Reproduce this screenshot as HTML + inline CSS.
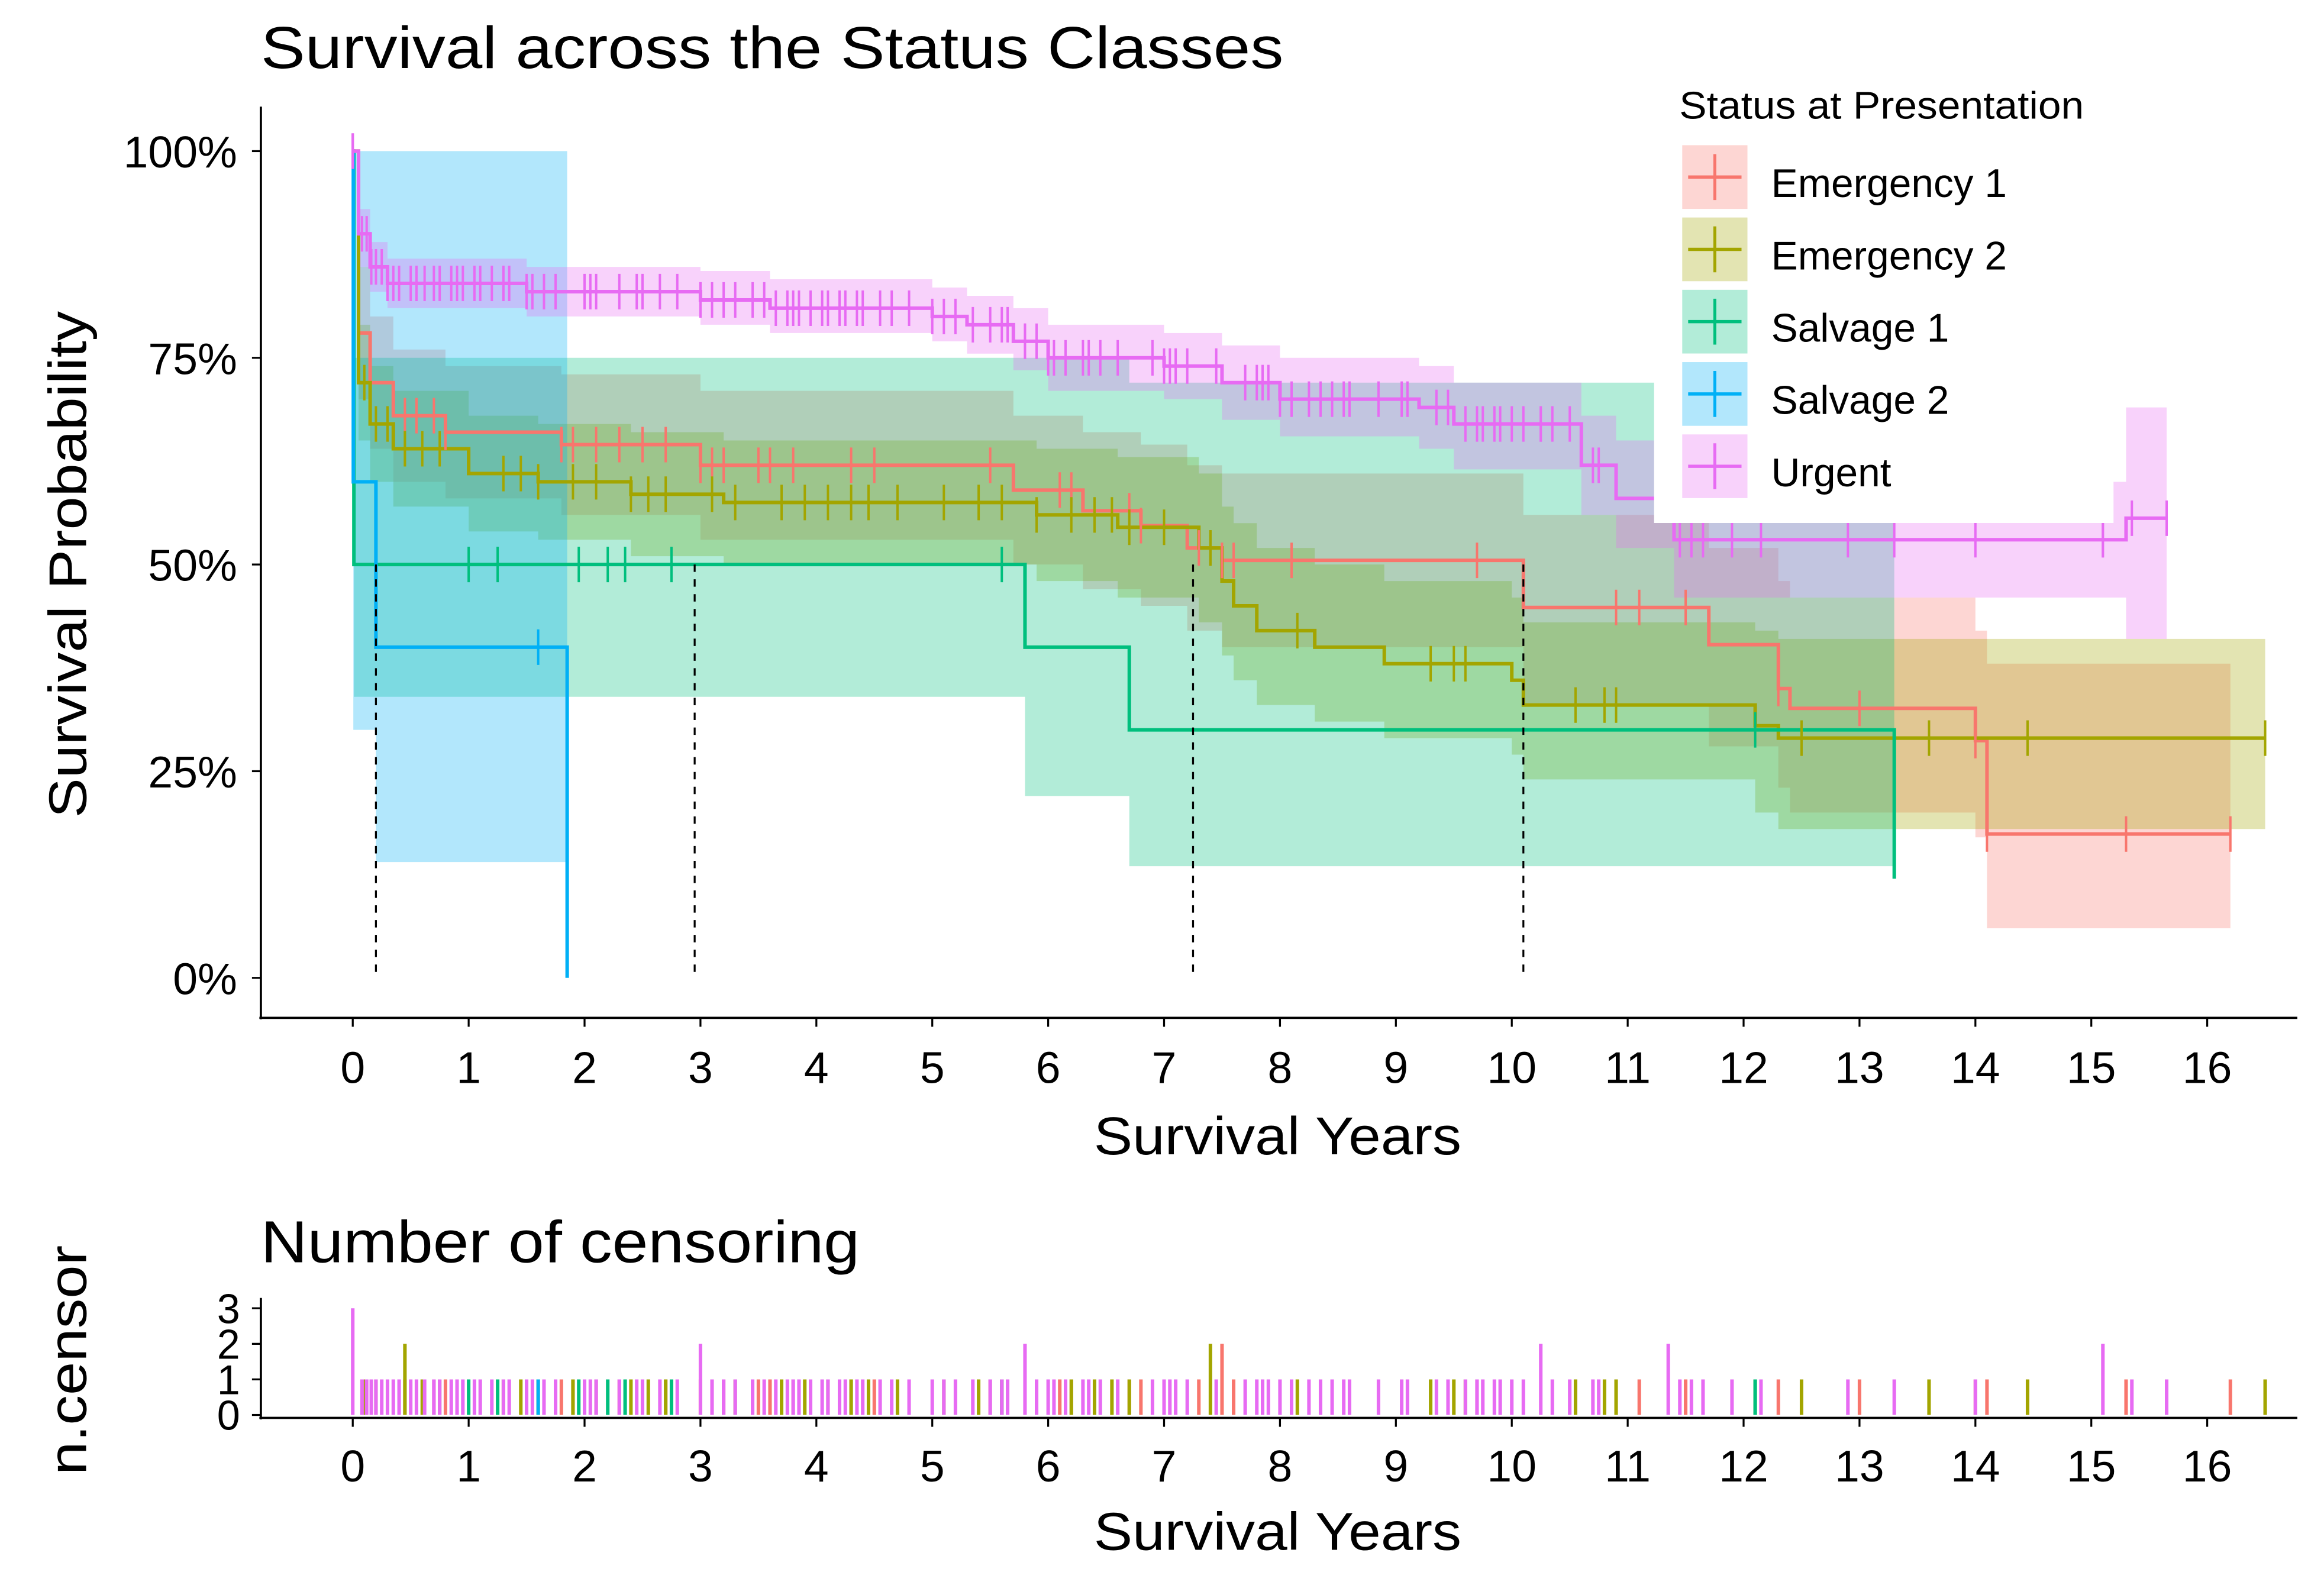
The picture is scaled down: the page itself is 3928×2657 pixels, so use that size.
<!DOCTYPE html>
<html><head><meta charset="utf-8"><style>
html,body{margin:0;padding:0;background:#fff;}
svg{display:block;}
text{font-family:"Liberation Sans",Arial,sans-serif;fill:#000;}
</style></head><body>
<svg id="chart" width="3928" height="2657" viewBox="0 0 1568 1061" preserveAspectRatio="none" xmlns="http://www.w3.org/2000/svg">
<rect x="0" y="0" width="1568" height="1061" fill="#fff"/>
<g id="bands"></g><g id="lines"></g><g id="ticks"></g><g id="medians"></g>
<rect x="1116" y="55" width="310" height="298" fill="#fff"/>
<g id="legend"></g>
<g id="axes"></g><g id="lower"></g>
<text x="176" y="46" font-size="40" textLength="690" lengthAdjust="spacingAndGlyphs">Survival across the Status Classes</text>
<text transform="translate(58,381) rotate(-90)" text-anchor="middle" font-size="36" textLength="342" lengthAdjust="spacingAndGlyphs">Survival Probability</text>
<text x="862" y="779" text-anchor="middle" font-size="36" textLength="248" lengthAdjust="spacingAndGlyphs">Survival Years</text>
<text x="176" y="852" font-size="40" textLength="404" lengthAdjust="spacingAndGlyphs">Number of censoring</text>
<text transform="translate(58,918) rotate(-90)" text-anchor="middle" font-size="36" textLength="155" lengthAdjust="spacingAndGlyphs">n.censor</text>
<text x="862" y="1046" text-anchor="middle" font-size="36" textLength="248" lengthAdjust="spacingAndGlyphs">Survival Years</text>
</svg>
<script>
const groups=["Emergency 1","Emergency 2","Salvage 1","Salvage 2","Urgent"];
const colors=["#F8766D","#A3A500","#00BF7D","#00B0F6","#E76BF3"];
const xTicks=[0,1,2,3,4,5,6,7,8,9,10,11,12,13,14,15,16];
const yTicks=[0,0.25,0.5,0.75,1];
const yTickLabels=["0%","25%","50%","75%","100%"];
const nTicks=[0,1,2,3];
// Emergency 1
const em1Times=[0,0.05,0.15,0.35,0.8,1.8,3.0,5.7,6.3,6.8,7.2,7.5,10.1,11.7,12.3,12.4,14.0,14.1];
const em1Surv=[1,0.78,0.72,0.68,0.66,0.645,0.62,0.59,0.565,0.547,0.52,0.505,0.448,0.403,0.35,0.326,0.287,0.174];
const em1Lo=[1,0.7,0.64,0.6,0.58,0.56,0.53,0.5,0.47,0.45,0.42,0.4,0.33,0.28,0.23,0.2,0.17,0.06];
const em1Hi=[1,0.86,0.8,0.76,0.74,0.73,0.71,0.68,0.66,0.645,0.62,0.61,0.56,0.52,0.48,0.46,0.42,0.38];
const em1End=16.2;
const em1Censor=[0.45,0.55,0.7,0.8,1.8,1.9,2.1,2.3,2.5,2.7,3.0,3.1,3.2,3.5,3.6,3.8,4.3,4.5,5.5,6.1,6.2,6.7,6.8,7.3,7.5,7.5,7.6,8.1,9.7,10.9,11.1,11.5,12.3,13.0,14.0,14.1,15.3,16.2];
// Emergency 2
const em2Times=[0,0.05,0.15,0.35,1.0,1.6,2.4,3.2,5.9,6.6,7.3,7.5,7.6,7.8,8.3,8.9,10.0,10.1,12.1,12.3];
const em2Surv=[1,0.72,0.67,0.64,0.61,0.6,0.585,0.575,0.56,0.545,0.52,0.48,0.45,0.42,0.40,0.38,0.36,0.33,0.305,0.29];
const em2Lo=[1,0.65,0.6,0.57,0.54,0.53,0.51,0.5,0.48,0.46,0.43,0.39,0.36,0.33,0.31,0.29,0.27,0.24,0.2,0.18];
const em2Hi=[1,0.79,0.74,0.71,0.68,0.67,0.66,0.65,0.64,0.63,0.61,0.57,0.55,0.52,0.50,0.48,0.46,0.43,0.42,0.41];
const em2End=16.5;
const em2Censor=[0.1,0.2,0.3,0.45,0.45,0.6,0.75,1.3,1.45,1.6,1.9,2.1,2.4,2.55,2.7,3.1,3.3,3.7,3.9,4.1,4.3,4.45,4.7,5.1,5.4,5.6,5.9,6.2,6.4,6.55,6.7,7.0,7.4,7.4,8.15,9.3,9.5,9.6,10.55,10.8,10.9,12.1,12.5,13.6,14.45,16.5];
// Salvage 1
const sal1Times=[0,0.01,5.8,6.7,13.3];
const sal1Surv=[1,0.5,0.4,0.3,0.12];
const sal1Lo=[1,0.34,0.22,0.135,0.12];
const sal1Hi=[1,0.75,0.75,0.72,0.12];
const sal1End=13.3;
const sal1Censor=[1.0,1.25,1.95,2.2,2.35,2.75,5.6,12.1];
// Salvage 2
const sal2Times=[0,0.005,0.2,1.85];
const sal2Surv=[1,0.6,0.4,0];
const sal2Lo=[1,0.3,0.14,0];
const sal2Hi=[1,1,1,0];
const sal2End=1.85;
const sal2Censor=[1.6];
// Urgent
const urgTimes=[0,0.05,0.15,0.3,1.5,3.0,3.6,5.0,5.3,5.7,6.0,7.0,7.5,8.0,9.2,9.5,10.6,10.9,11.4,15.3];
const urgSurv=[1,0.9,0.86,0.84,0.83,0.82,0.81,0.80,0.79,0.77,0.75,0.74,0.72,0.70,0.69,0.67,0.62,0.58,0.53,0.556];
const urgLo=[1,0.86,0.83,0.81,0.80,0.79,0.78,0.77,0.755,0.735,0.71,0.70,0.675,0.655,0.64,0.615,0.56,0.52,0.46,0.41];
const urgHi=[1,0.93,0.89,0.87,0.86,0.855,0.845,0.835,0.825,0.81,0.79,0.78,0.765,0.75,0.74,0.72,0.68,0.65,0.6,0.69];
const urgEnd=15.65;
const urgCensor=[0,0,0,0.08,0.12,0.16,0.2,0.25,0.3,0.35,0.4,0.5,0.55,0.62,0.7,0.75,0.85,0.9,0.95,1.05,1.1,1.2,1.3,1.35,1.5,1.55,1.65,1.75,2.0,2.05,2.1,2.3,2.45,2.5,2.65,2.8,3.0,3.0,3.1,3.2,3.3,3.45,3.55,3.65,3.75,3.8,3.85,3.95,4.05,4.1,4.2,4.25,4.35,4.4,4.55,4.65,4.8,5.0,5.1,5.2,5.35,5.5,5.6,5.65,5.8,5.8,5.9,6.0,6.05,6.15,6.3,6.35,6.45,6.6,6.9,7.0,7.05,7.1,7.2,7.45,7.7,7.8,7.85,7.9,8.0,8.1,8.25,8.35,8.45,8.55,8.6,8.85,9.05,9.1,9.35,9.45,9.6,9.7,9.75,9.85,9.9,10.0,10.1,10.25,10.25,10.35,10.5,10.7,10.75,11.35,11.35,11.45,11.55,11.65,11.9,12.15,12.9,13.3,14.0,15.1,15.1,15.35,15.65];
const series=[
 {t:em1Times,s:em1Surv,lo:em1Lo,hi:em1Hi,end:em1End,c:em1Censor},
 {t:em2Times,s:em2Surv,lo:em2Lo,hi:em2Hi,end:em2End,c:em2Censor},
 {t:sal1Times,s:sal1Surv,lo:sal1Lo,hi:sal1Hi,end:sal1End,c:sal1Censor},
 {t:sal2Times,s:sal2Surv,lo:sal2Lo,hi:sal2Hi,end:sal2End,c:sal2Censor},
 {t:urgTimes,s:urgSurv,lo:urgLo,hi:urgHi,end:urgEnd,c:urgCensor}];
const medianTimes=[0.2,2.95,7.25,10.1];
const medianLevel=0.5;

const NS="http://www.w3.org/2000/svg";
const X0=238,XS=78.2;
const x=t=>X0+t*XS;
const y=p=>660-p*558;
const yn=n=>955-n*24;
function mk(tag,attrs,parent){const e=document.createElementNS(NS,tag);for(const k in attrs)e.setAttribute(k,attrs[k]);parent.appendChild(e);return e;}
function stepPath(t,v,end,fy){let d="M"+x(t[0])+","+fy(v[0]);for(let i=1;i<t.length;i++){d+="H"+x(t[i])+"V"+fy(v[i]);}d+="H"+x(end);return d;}
function valAt(t,v,tt){let r=v[0];for(let i=0;i<t.length;i++){if(t[i]<=tt)r=v[i];}return r;}
const gB=document.getElementById('bands'),gL=document.getElementById('lines'),gT=document.getElementById('ticks');
series.forEach((S,i)=>{
 let d="M"+x(S.t[0])+","+y(S.hi[0]);
 for(let k=1;k<S.t.length;k++)d+="H"+x(S.t[k])+"V"+y(S.hi[k]);
 d+="H"+x(S.end)+"V"+y(S.lo[S.lo.length-1]);
 for(let k=S.t.length-1;k>=1;k--)d+="H"+x(S.t[k])+"V"+y(S.lo[k-1]);
 d+="H"+x(S.t[0])+"Z";
 const b=mk('path',{d:d,fill:colors[i],'fill-opacity':0.3,stroke:'none'},gB);
 
 
 const l=mk('path',{d:stepPath(S.t,S.s,S.end,y),fill:'none',stroke:colors[i],'stroke-width':2.4},gL);
 
 
 S.c.forEach(tt=>{const v=valAt(S.t,S.s,tt);
  const m=mk('line',{x1:x(tt),x2:x(tt),y1:y(v)-12,y2:y(v)+12,stroke:colors[i],'stroke-width':1.6},gT);
  
  
 });
});
const gM=document.getElementById('medians');
medianTimes.forEach(mt=>{const e=mk('line',{x1:x(mt),x2:x(mt),y1:y(medianLevel),y2:y(0),stroke:'#000','stroke-width':1.3,'stroke-dasharray':'5,5'},gM);
 
 });
const gLeg=document.getElementById('legend');
const lt=mk('text',{x:1133,y:80,'font-size':26,textLength:273,lengthAdjust:'spacingAndGlyphs'},gLeg);lt.textContent="Status at Presentation";


const legW=[160,160,117,117,79];
groups.forEach((g,i)=>{const yy=98+i*48.8;
 const r=mk('rect',{x:1135,y:yy,width:44,height:43,fill:colors[i],'fill-opacity':0.3},gLeg);
 
 
 mk('line',{x1:1139,x2:1175,y1:yy+21.5,y2:yy+21.5,stroke:colors[i],'stroke-width':2.2},gLeg);
 mk('line',{x1:1157,x2:1157,y1:yy+6,y2:yy+37,stroke:colors[i],'stroke-width':2},gLeg);
 const t=mk('text',{x:1195,y:yy+35,'font-size':27,fill:'#111'},gLeg);t.textContent=g;
 
 
});
const gA=document.getElementById('axes');
mk('line',{x1:176,x2:176,y1:72,y2:688,stroke:'#000','stroke-width':1.5},gA);
mk('line',{x1:175,x2:1550,y1:687,y2:687,stroke:'#000','stroke-width':1.5},gA);
yTicks.forEach((v,i)=>{mk('line',{x1:170,x2:176,y1:y(v),y2:y(v),stroke:'#000','stroke-width':1.3},gA);
 const t=mk('text',{x:160,y:y(v)+11,'text-anchor':'end','font-size':30,fill:'#222'},gA);t.textContent=yTickLabels[i];
 
 });
xTicks.forEach(v=>{mk('line',{x1:x(v),x2:x(v),y1:687,y2:693,stroke:'#000','stroke-width':1.3},gA);
 const t=mk('text',{x:x(v),y:731,'text-anchor':'middle','font-size':30,fill:'#222'},gA);t.textContent=v;
 
 });
const gLo=document.getElementById('lower');
series.forEach((S,i)=>{const cnt={};S.c.forEach(tt=>{cnt[tt]=(cnt[tt]||0)+1;});
 Object.keys(cnt).forEach(k=>{const tt=+k;const b=mk('line',{x1:x(tt),x2:x(tt),y1:yn(0),y2:yn(cnt[k]),stroke:colors[i],'stroke-width':2.4},gLo);
  
  });
});
mk('line',{x1:176,x2:176,y1:876,y2:958,stroke:'#000','stroke-width':1.5},gLo);
mk('line',{x1:175,x2:1550,y1:957,y2:957,stroke:'#000','stroke-width':1.5},gLo);
nTicks.forEach(v=>{mk('line',{x1:170,x2:176,y1:yn(v),y2:yn(v),stroke:'#000','stroke-width':1.3},gLo);
 const t=mk('text',{x:162,y:yn(v)+10,'text-anchor':'end','font-size':28,fill:'#222'},gLo);t.textContent=v;
 
 });
xTicks.forEach(v=>{mk('line',{x1:x(v),x2:x(v),y1:957,y2:963,stroke:'#000','stroke-width':1.3},gLo);
 const t=mk('text',{x:x(v),y:1000,'text-anchor':'middle','font-size':30,fill:'#222'},gLo);t.textContent=v;
 
 });
</script>
</body></html>
